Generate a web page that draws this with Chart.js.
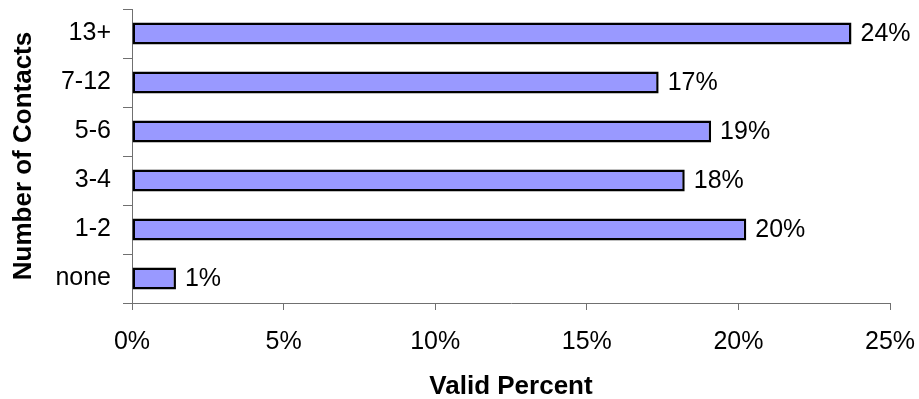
<html>
  <body style="margin:0;background:#fff">
    <div style="width:919px;height:399px">
      <canvas id="myChart" width="919" height="399"></canvas>
    </div>

    <script src="https://cdn.jsdelivr.net/npm/chart.js"></script>

    <script>
      var categories = ["13+", "7-12", "5-6", "3-4", "1-2", "none"];
      var validPercent = [23.73, 17.37, 19.1, 18.23, 20.26, 1.45];
      var xTicks = [0, 5, 10, 15, 20, 25];

      var font = "'Liberation Sans', Arial, sans-serif";

      // draws the "24%" style labels just past the end of each bar
      var barLabels = {
        id: "barLabels",
        afterDatasetsDraw(chart) {
          var ctx = chart.ctx;
          var meta = chart.getDatasetMeta(0);
          ctx.save();
          ctx.font = "25px " + font;
          ctx.fillStyle = "#000";
          ctx.textAlign = "left";
          ctx.textBaseline = "middle";
          meta.data.forEach((bar, i) => {
            var txt = Math.round(validPercent[i]) + "%";
            ctx.fillText(txt, bar.x + 9, bar.y + 1);
          });
          ctx.restore();
        },
      };

      function noPad(scale) {
        scale.paddingTop = 0;
        scale.paddingBottom = 0;
        scale.paddingLeft = 0;
        scale.paddingRight = 0;
      }

      var data = {
        labels: categories,
        datasets: [
          {
            data: validPercent,
            backgroundColor: "#9999FF",
            borderColor: "#000",
            borderWidth: 2.5,
            borderSkipped: false,
            categoryPercentage: 1,
            barPercentage: 0.45,
          },
        ],
      };

      var config = {
        type: "bar",
        data: data,
        plugins: [barLabels],
        options: {
          indexAxis: "y",
          responsive: false,
          animation: false,
          layout: { padding: { top: 9, right: 29, left: 8, bottom: 0 } },
          plugins: { legend: { display: false }, tooltip: { enabled: false } },
          scales: {
            x: {
              min: 0,
              max: 25,
              afterBuildTicks: (scale) => {
                scale.ticks = xTicks.map((v) => ({ value: v }));
              },
              afterFit: (scale) => {
                scale.height = 96;
                noPad(scale);
              },
              grid: {
                drawOnChartArea: false,
                tickLength: 7,
                color: "#707070",
              },
              border: { color: "#707070", width: 1 },
              ticks: {
                color: "#000",
                font: { family: font, size: 25 },
                padding: 17,
                maxRotation: 0,
                callback: (v) => v + "%",
              },
              title: {
                display: true,
                text: "Valid Percent",
                color: "#000",
                font: { family: font, size: 26, weight: "bold" },
                padding: { top: 0, bottom: -3 },
              },
            },
            y: {
              afterFit: (scale) => {
                scale.width = 124;
                noPad(scale);
              },
              grid: {
                drawOnChartArea: false,
                offset: true,
                tickLength: 9,
                color: "#707070",
              },
              border: { color: "#707070", width: 1 },
              ticks: {
                color: "#000",
                font: { family: font, size: 25 },
                padding: 12,
              },
              title: {
                display: true,
                text: "Number of Contacts",
                color: "#000",
                font: { family: font, size: 26, weight: "bold" },
                padding: { top: 0, bottom: 0 },
              },
            },
          },
        },
      };

      const myChart = new Chart(document.getElementById("myChart"), config);
    </script>
  </body>
</html>
